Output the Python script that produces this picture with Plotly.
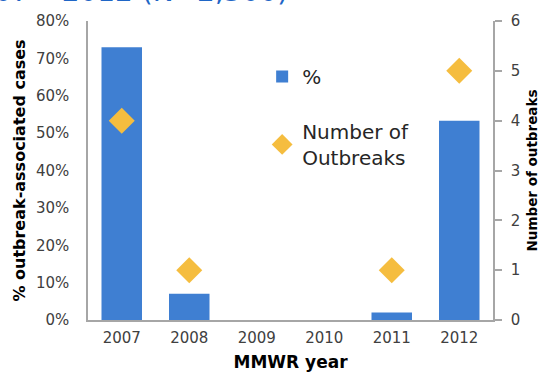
import plotly.graph_objects as go

years = ["2007", "2008", "2009", "2010", "2011", "2012"]
pct_cases = [73, 7, 0, 0, 2, 53.3]
outbreak_years = ["2007", "2008", "2011", "2012"]
num_outbreaks = [4, 1, 1, 5]
left_ticks = [0, 10, 20, 30, 40, 50, 60, 70, 80]
right_ticks = [0, 1, 2, 3, 4, 5, 6]

BAR = "#3F7FD2"
GOLD = "#F5BD3F"
FONT = "DejaVu Sans"

fig = go.Figure()
fig.add_trace(go.Bar(
    x=years, y=pct_cases, name="%", marker=dict(color=BAR, line=dict(width=0)),
    width=0.6, legendgroup="a", yaxis="y",
))
fig.add_trace(go.Scatter(
    x=outbreak_years, y=num_outbreaks, name="Number of<br>Outbreaks", mode="markers",
    marker=dict(symbol="diamond", size=20, color=GOLD), legendgroup="b", yaxis="y2",
))

fig.update_layout(
    width=550, height=378,
    margin=dict(l=88, r=57, t=16, b=58),
    paper_bgcolor="white", plot_bgcolor="white",
    font=dict(family=FONT, size=15, color="#404040"),
    showlegend=True,
    legend=dict(x=0.43, y=0.88, xanchor="left", yanchor="top",
                font=dict(size=20, color="#262626"), traceorder="grouped",
                tracegroupgap=26, bgcolor="rgba(0,0,0,0)", itemwidth=30),
    xaxis=dict(
        type="category", showgrid=False, showline=True, linecolor="#A6A6A6", linewidth=1.5,
        ticks="", tickfont=dict(size=15, color="#404040"), ticklabelstandoff=3,
        automargin=False,
        title=dict(text="<b>MMWR year</b>", font=dict(size=17, color="black"), standoff=10),
    ),
    yaxis=dict(
        range=[0, 80], tickvals=left_ticks, ticktext=[f"{v}%" for v in left_ticks],
        showgrid=False, showline=True, linecolor="#A6A6A6", linewidth=1.5,
        ticks="", ticklabelstandoff=14, zeroline=False,
        title=dict(text="<b>% outbreak-associated cases</b>", font=dict(size=16, color="black"), standoff=6),
    ),
    yaxis2=dict(
        range=[0, 6], tickvals=right_ticks, overlaying="y", side="right",
        showgrid=False, showline=True, linecolor="#A6A6A6", linewidth=1.5,
        ticks="outside", ticklen=7, tickcolor="#A6A6A6", tickwidth=1.5, zeroline=False,
        ticklabelstandoff=6,
        title=dict(text="<b>Number of outbreaks</b>", font=dict(size=13.5, color="black"), standoff=8),
    ),
    annotations=[dict(
        text="Outbreak-associated cases, 2007 – 2012 (N=2,300)", xref="paper", yref="paper",
        x=0.4988, y=1.098, xanchor="right", yanchor="middle", showarrow=False,
        font=dict(size=28, color="#1F66C6", family=FONT),
    )],
)

fig.write_html("out.html")
